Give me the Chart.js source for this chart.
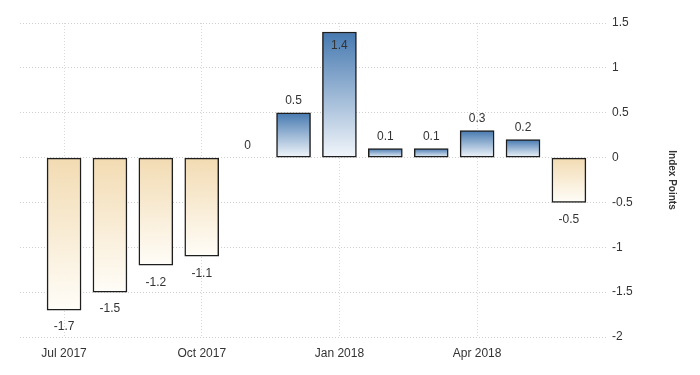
<!DOCTYPE html>
<html>
<head>
<meta charset="utf-8">
<script src="https://cdn.jsdelivr.net/npm/chart.js@4/dist/chart.umd.min.js"></script>
<style>
  html, body { margin: 0; padding: 0; background: #ffffff; }
  #wrap { width: 700px; height: 375px; position: relative; }
</style>
</head>
<body>
<div id="wrap"><canvas id="c" width="700" height="375"></canvas></div>
<script>
const months = ["Jul 2017","Aug 2017","Sep 2017","Oct 2017","Nov 2017","Dec 2017","Jan 2018","Feb 2018","Mar 2018","Apr 2018","May 2018","Jun 2018"];
const values = [-1.7, -1.5, -1.2, -1.1, 0, 0.5, 1.4, 0.1, 0.1, 0.3, 0.2, -0.5];
const xTickIndices = [0, 3, 6, 9];
const yTicks = [1.5, 1, 0.5, 0, -0.5, -1, -1.5, -2];
const axisTitle = "Index Points";

const FONT = "'Liberation Sans Narrow', 'Liberation Sans', Arial, sans-serif";
const TEXT = '#333333';

const dataPoints = values.map((v, i) => ({ x: i, y: v }));

function barFill(ctx) {
  const chart = ctx.chart;
  const area = chart.chartArea;
  if (!area) return '#4a7fb5';
  const v = ctx.raw ? ctx.raw.y : 0;
  const ys = chart.scales.y;
  const y0 = ys.getPixelForValue(0);
  const yv = ys.getPixelForValue(v);
  const c = chart.ctx;
  if (v >= 0) {
    const g = c.createLinearGradient(0, Math.min(yv, y0 - 1), 0, y0);
    g.addColorStop(0, '#4679b0');
    g.addColorStop(1, '#f2f6fb');
    return g;
  } else {
    const g = c.createLinearGradient(0, y0, 0, yv);
    g.addColorStop(0, '#f2dbb2');
    g.addColorStop(1, '#fffdf8');
    return g;
  }
}

const labelPlugin = {
  id: 'valueLabels',
  afterDatasetsDraw(chart) {
    const c = chart.ctx;
    const meta = chart.getDatasetMeta(0);
    const area = chart.chartArea;
    c.save();
    c.font = '12px ' + FONT;
    c.fillStyle = TEXT;
    c.textAlign = 'center';
    c.textBaseline = 'middle';
    meta.data.forEach((el, i) => {
      const v = values[i];
      let y;
      if (v >= 0) {
        y = el.y - 12;
        if (y < area.top + 4) y = el.y + 14;
      } else {
        y = el.y + 17;
      }
      c.fillText(String(v), el.x, y);
    });
    c.restore();
  }
};

new Chart(document.getElementById('c'), {
  type: 'bar',
  data: {
    datasets: [{
      data: dataPoints,
      backgroundColor: barFill,
      borderColor: '#1e1e1e',
      borderWidth: 1.5,
      borderSkipped: false,
      barThickness: 34
    }]
  },
  options: {
    responsive: false,
    animation: false,
    devicePixelRatio: 1,
    layout: { padding: { top: 23, left: 20, right: 0, bottom: 0 } },
    plugins: { legend: { display: false }, tooltip: { enabled: false } },
    scales: {
      x: {
        type: 'linear',
        offset: false,
        min: -0.96,
        max: 11.83,
        afterBuildTicks(scale) { scale.ticks = xTickIndices.map(v => ({ value: v })); },
        afterFit(scale) { scale.height = 38; },
        ticks: {
          autoSkip: false,
          maxRotation: 0,
          padding: 9,
          color: TEXT,
          font: { family: FONT, size: 12 },
          callback: (v) => months[v]
        },
        grid: { offset: false, color: '#d9d9d9', lineWidth: 1, drawTicks: false },
        border: { display: false, dash: [1, 2] }
      },
      y: {
        position: 'right',
        min: -2,
        max: 1.5,
        afterBuildTicks(scale) { scale.ticks = yTicks.map(v => ({ value: v })); },
        afterFit(scale) { scale.width = 93; },
        ticks: {
          padding: 5,
          color: TEXT,
          font: { family: FONT, size: 12 },
          callback: (v) => String(v)
        },
        grid: { color: '#d0d0d0', lineWidth: 1, drawTicks: false },
        border: { display: false, dash: [1, 2] },
        title: {
          display: true,
          text: axisTitle,
          color: TEXT,
          font: { family: "'Liberation Sans', Arial, sans-serif", size: 10, weight: 'bold' },
          padding: { top: 22, bottom: 0 }
        }
      }
    }
  },
  plugins: [labelPlugin]
});
</script>
</body>
</html>
